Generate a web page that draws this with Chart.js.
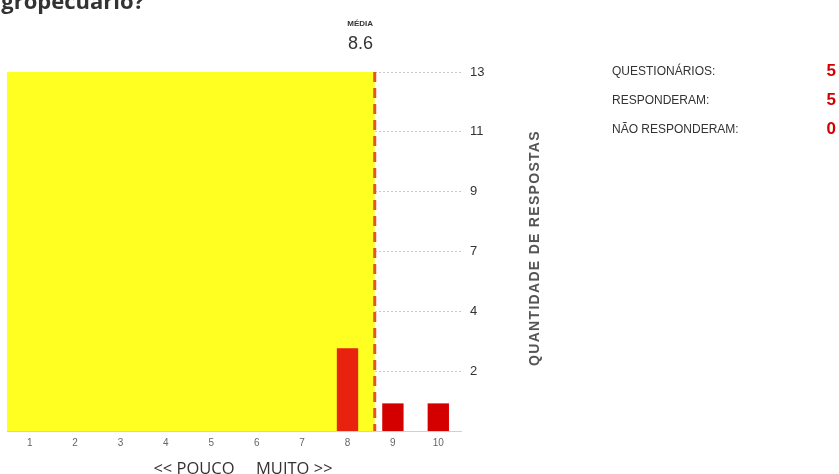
<!DOCTYPE html>
<html lang="pt">
  <head>
    <meta charset="UTF-8" />
    <script src="https://cdn.jsdelivr.net/npm/chart.js"></script>
    <title>Média</title>
    <style>
      body { margin: 0; background: #fff; overflow: hidden; }
      #wrap { position: absolute; left: 0; top: 0; width: 839px; height: 474px; }
      #title {
        position: absolute; left: -12px; top: -15px;
        font: bold 22px "Open Sans", sans-serif; color: #333; white-space: nowrap;
      }
      .media { position: absolute; text-align: right; font-family: "Liberation Sans", Arial, sans-serif; color: #333; }
      #mlab { left: 300px; top: 19px; width: 73px; font-size: 8px; font-weight: bold; }
      #mval { left: 300px; top: 33px; width: 73px; font-size: 18px; }
      #xtitle {
        position: absolute; left: 113px; width: 260px; top: 456px; text-align: center;
        font: 16.5px "Open Sans", sans-serif; color: #333; white-space: pre;
      }
      #ytitle {
        position: absolute; left: 414px; width: 240px; top: 240px; text-align: center;
        transform: rotate(-90deg);
        font: bold 14px "Liberation Sans", Arial, sans-serif; letter-spacing: 1.3px; color: #555; white-space: nowrap;
      }
      #stats { position: absolute; left: 612px; top: 64px; font-family: "Liberation Sans", Arial, sans-serif; }
      #stats div { position: relative; height: 29px; width: 224px; font-size: 12px; color: #333; }
      #stats span { position: absolute; right: 0; top: -3px; font-size: 17px; font-weight: bold; color: #d40000; }
    </style>
  </head>
  <body>
    <div id="wrap"><canvas id="myChart" width="839" height="474"></canvas></div>
    <div id="title">agropecuário?</div>
    <div class="media" id="mlab">MÉDIA</div>
    <div class="media" id="mval"></div>
    <div id="xtitle"></div>
    <div id="ytitle"></div>
    <div id="stats"></div>

    <script>
      // notas 1..10 e quantidade de respostas
      const categories = ["1", "2", "3", "4", "5", "6", "7", "8", "9", "10"];
      const answers = [0, 0, 0, 0, 0, 0, 0, 3, 1, 1];
      const meanValue = 8.6;
      const yMax = 13;
      const yTickLabels = ["2", "4", "7", "9", "11", "13"];
      const xTitle = "<< POUCO     MUITO >>";
      const yTitle = "QUANTIDADE DE RESPOSTAS";
      const statLabels = ["QUESTIONÁRIOS:", "RESPONDERAM:", "NÃO RESPONDERAM:"];
      const statValues = [5, 5, 0];

      document.getElementById("mval").textContent = meanValue.toFixed(1);
      document.getElementById("xtitle").textContent = xTitle;
      document.getElementById("ytitle").textContent = yTitle;
      const stats = document.getElementById("stats");
      statLabels.forEach((l, i) => {
        const d = document.createElement("div");
        d.textContent = l;
        const s = document.createElement("span");
        s.textContent = statValues[i];
        d.appendChild(s);
        stats.appendChild(d);
      });

      const meanIndex = categories.indexOf("1") + meanValue - 1;

      // fundo amarelo ate a media + linha tracejada
      const meanArea = {
        id: "meanArea",
        beforeDatasetsDraw(chart) {
          const { ctx, chartArea, scales } = chart;
          const xm = scales.x.getPixelForValue(meanIndex);
          const yt = scales.y.getPixelForValue(yMax);
          ctx.save();
          ctx.fillStyle = "#ffff22";
          ctx.fillRect(chartArea.left, yt, xm - chartArea.left, chartArea.bottom - yt);
          ctx.restore();
        },
        afterDatasetsDraw(chart) {
          const { ctx, chartArea, scales } = chart;
          const xm = scales.x.getPixelForValue(meanIndex);
          ctx.save();
          ctx.strokeStyle = "#e8531c";
          ctx.lineWidth = 3;
          ctx.setLineDash([10, 6]);
          ctx.beginPath();
          ctx.moveTo(xm, scales.y.getPixelForValue(yMax));
          ctx.lineTo(xm, chartArea.bottom);
          ctx.stroke();
          ctx.restore();
        }
      };

      new Chart(document.getElementById("myChart"), {
        type: "bar",
        data: {
          labels: categories,
          datasets: [{
            data: answers,
            backgroundColor: ctx => (ctx.dataIndex < meanIndex ? "#e8220e" : "#d40000"),
            barPercentage: 0.47,
            categoryPercentage: 1
          }]
        },
        options: {
          responsive: false,
          animation: false,
          layout: { padding: { left: 7, top: 72, right: 298, bottom: 19 } },
          plugins: { legend: { display: false }, tooltip: { enabled: false } },
          scales: {
            x: {
              grid: { display: false, drawTicks: false, tickLength: 0 },
              border: { color: "#d0d0d0", width: 1 },
              ticks: { color: "#666", font: { size: 10, family: "Liberation Sans" }, padding: 6 }
            },
            y: {
              position: "right",
              min: 0, max: yMax,
              afterFit(scale) { scale.width = 80; },
              afterBuildTicks(scale) {
                scale.ticks = yTickLabels.map((l, i) => ({ value: yMax * (i + 1) / yTickLabels.length }));
              },
              grid: { color: "#c8c8c8", tickLength: 0, drawTicks: false },
              border: { display: false, dash: [2, 2] },
              ticks: {
                color: "#333", font: { size: 13, family: "Liberation Sans" }, padding: 9,
                callback: (v, i) => yTickLabels[i]
              }
            }
          }
        },
        plugins: [meanArea]
      });
    </script>
  </body>
</html>
